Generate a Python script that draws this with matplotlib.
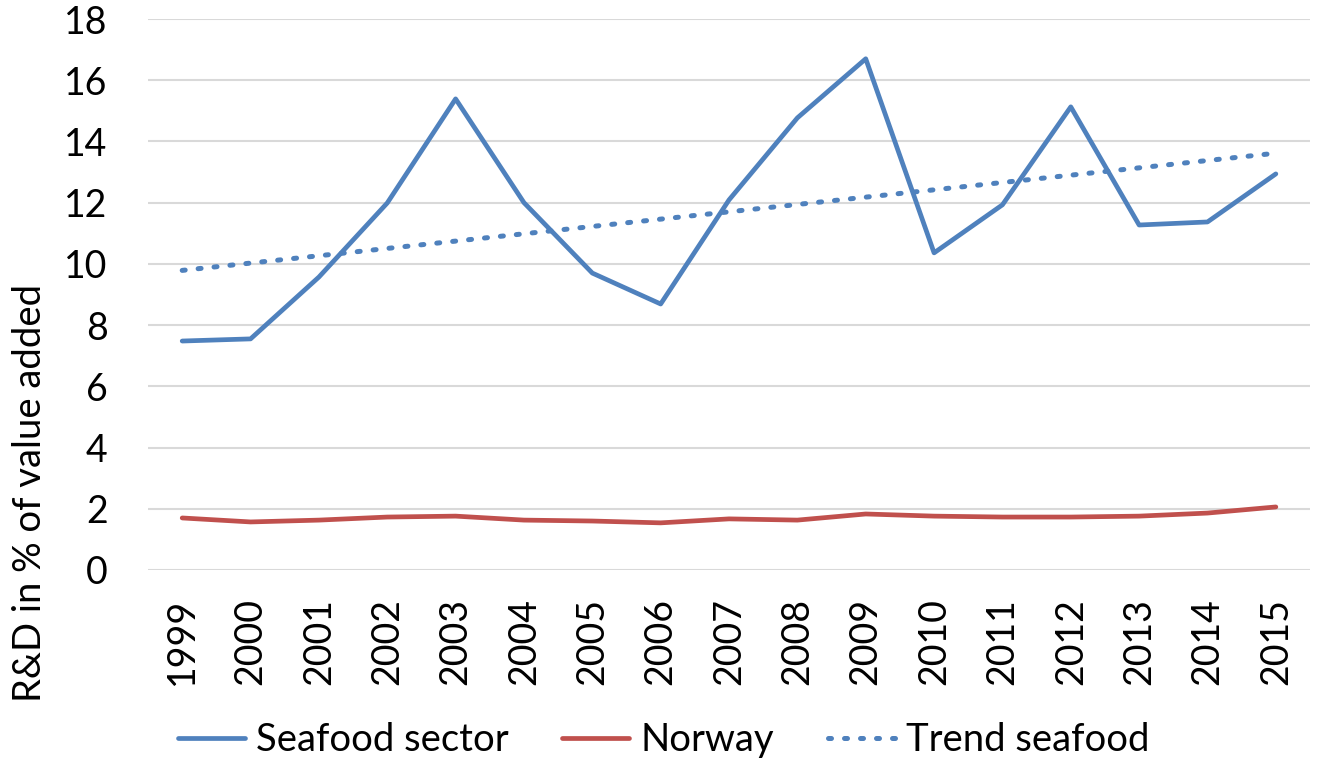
import numpy as np
import matplotlib.pyplot as plt

plt.rcParams['font.family'] = ['Lato', 'DejaVu Sans']

years = ['1999', '2000', '2001', '2002', '2003', '2004', '2005', '2006', '2007',
         '2008', '2009', '2010', '2011', '2012', '2013', '2014', '2015']
seafood = [7.48, 7.55, 9.57, 11.99, 15.39, 12.0, 9.7, 8.69, 12.09,
           14.77, 16.7, 10.36, 11.93, 15.13, 11.27, 11.37, 12.94]
norway = [1.70, 1.57, 1.63, 1.73, 1.76, 1.63, 1.60, 1.54, 1.67,
          1.63, 1.83, 1.76, 1.73, 1.73, 1.76, 1.86, 2.06]

x = np.arange(len(years))
# linear trendline on the seafood series (as in the spreadsheet)
trend = np.poly1d(np.polyfit(x, seafood, 1))(x)

blue = '#4F81BD'
red = '#C0504D'

fig = plt.figure(figsize=(13.17, 7.6), dpi=100)
ax = fig.add_axes([0.1124, 0.25, 0.8823, 0.725])

ax.plot(x, seafood, color=blue, lw=3.4, label='Seafood sector', solid_capstyle='round')
ax.plot(x, norway, color=red, lw=3.4, label='Norway', solid_capstyle='round')
ax.plot(x, trend, color=blue, lw=3.6, linestyle=(0, (0.6, 2.6)),
        dash_capstyle='round', label='Trend seafood')

ax.set_xlim(-0.5, len(years) - 0.5)
ax.set_ylim(0, 18)
ax.set_yticks(range(0, 19, 2))
ax.set_xticks(x)
ax.set_xticklabels(years, rotation=90)
ax.tick_params(axis='both', length=0, labelsize=27, colors='black')
ax.tick_params(axis='x', pad=20)
ax.tick_params(axis='y', pad=29)
ax.grid(axis='y', color='#D9D9D9', lw=1.5)
ax.set_axisbelow(True)
for s in ax.spines.values():
    s.set_visible(False)

fig.text(0.023, 0.352, 'R&D in % of value added', rotation=90,
         fontsize=27.5, ha='center', va='center')

fig.legend(loc='center', bbox_to_anchor=(0.504, 0.026), ncol=3, frameon=False,
           fontsize=27.5, handlelength=1.75, handletextpad=0.3, columnspacing=1.4)

fig.savefig('out.png', dpi=100)
